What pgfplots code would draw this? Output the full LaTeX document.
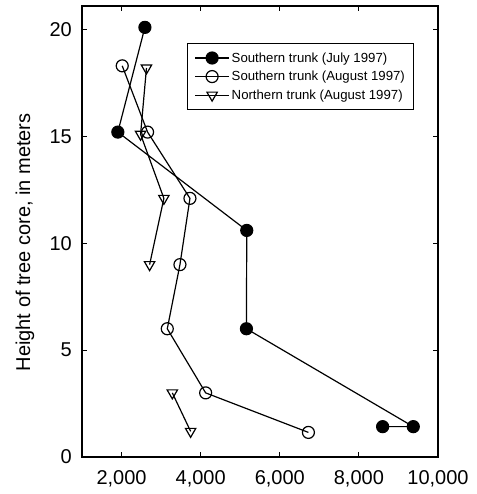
\documentclass[border=0pt]{standalone}
\usepackage{fontspec}
\setmainfont{Liberation Sans}
\usepackage{pgfplots}
\pgfplotsset{compat=1.18}
\begin{document}
\begin{tikzpicture}
\begin{axis}[
  scale only axis, width=356pt, height=451pt,
  xmin=1000, xmax=10000, ymin=0, ymax=21.1,
  xtick={2000,4000,6000,8000,10000},
  ytick={0,5,10,15,20},
  scaled x ticks=false,
  tick align=inside, major tick length=5pt,
  axis line style={line width=1.3pt},
  tick style={line width=1pt, black},
  /pgf/number format/assume math mode=true,
  /pgf/number format/1000 sep={,},
  tick label style={font=\fontsize{20}{22}\selectfont},
  xticklabel style={anchor=center, yshift=-22pt},
  yticklabel style={anchor=east, inner sep=0pt, xshift=-10pt},
  ylabel={Height of tree core, in meters},
  ylabel style={font=\fontsize{20}{22}\selectfont, at={(axis description cs:-0.16,0.476)}, anchor=center},
  legend style={at={(rel axis cs:0.295,0.918)}, anchor=north west, draw=black, line width=1pt,
    font=\fontsize{13.2}{15}\selectfont, row sep=3.5pt, inner xsep=7pt, inner ysep=7pt},
  legend cell align=left,
  legend image code/.code={\draw[mark repeat=2,mark phase=2] plot coordinates {(0pt,0pt)(17pt,0pt)(34pt,0pt)};},
  every axis plot/.append style={black, line width=1.2pt, mark size=6pt, mark options={solid, line width=1pt}},
]
\addplot[mark=*, mark options={fill=black}] coordinates {
  (2590,20.1) (1906,15.2) (5165,10.6) (5157,6.0) (9375,1.42) (8600,1.42)
};
\addlegendentry{Southern trunk (July 1997)}
\addplot[mark=o, mark options={fill=white}] coordinates {
  (2017,18.3) (2658,15.2) (3729,12.1) (3476,9.0) (3156,6.0) (4126,3.0) (6724,1.15)
};
\addlegendentry{Southern trunk (August 1997)}
\addplot[mark=triangle, mark options={fill=white, rotate=180}] coordinates {
  (2630,18.2) (2481,15.1) (3070,12.1) (2709,9.0)
};
\addlegendentry{Northern trunk (August 1997)}
\addplot[forget plot, mark=triangle, mark options={fill=white, rotate=180}] coordinates {
  (3283,3.0) (3746,1.2)
};
\end{axis}
\path (current axis.south west) ++(-82pt,-37pt) coordinate (a);
\path (current axis.north east) ++(38pt,6pt) coordinate (b);
\pgfresetboundingbox
\useasboundingbox (a) rectangle (b);
\end{tikzpicture}
\end{document}
